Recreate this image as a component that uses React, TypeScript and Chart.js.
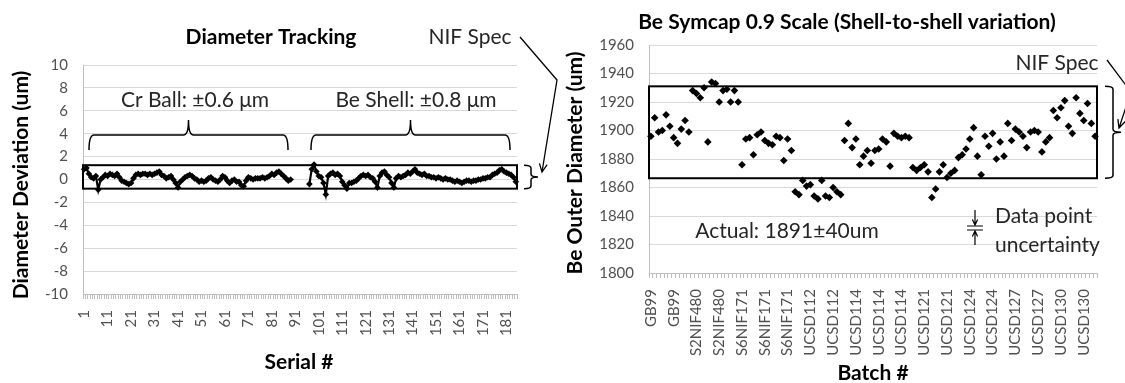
import React, { useEffect, useRef } from 'react';
import { Chart, registerables } from 'chart.js';

Chart.register(...registerables);

const FONT = 'Lato, "Open Sans", sans-serif';
const TICK_COLOR = '#505050';
const GRID_COLOR = '#d9d9d9';
const AXIS_COLOR = '#bfbfbf';
const TEXT_COLOR = '#262626';

// ---------- Left panel: Diameter Tracking ----------
const serialLabels: string[] = Array.from({ length: 185 }, (_, i) => String(i + 1));

const crBall: number[] = [
  0.9, 1.0, 0.5, 0.2, 0.1, 0.3, -0.9, 0.0, 0.2, 0.4,
  0.3, 0.5, 0.4, 0.3, 0.5, 0.2, -0.1, -0.2, -0.3, -0.4,
  -0.3, 0.1, 0.4, 0.5, 0.4, 0.5, 0.5, 0.4, 0.5, 0.4,
  0.5, 0.6, 0.7, 0.4, 0.3, 0.1, 0.2, 0.3, 0.0, -0.3,
  -0.7, -0.2, 0.0, 0.2, 0.3, 0.4, 0.3, 0.1, 0.0, -0.2,
  -0.1, -0.2, -0.1, 0.1, 0.2, 0.0, -0.1, -0.2, 0.0, 0.3,
  0.2, -0.1, -0.3, -0.1, 0.0, -0.2, -0.2, -0.5, -0.6, -0.1,
  0.2, 0.1, 0.0, 0.1, 0.1, 0.1, 0.2, 0.1, 0.2, 0.3,
  0.5, 0.4, 0.6, 0.7, 0.5, 0.3, 0.1, -0.1, 0.0,
];

const gapCount = 7;

const beShell: number[] = [
  -0.4, 0.9, 1.3, 0.7, 0.3, 0.2, -0.3, -1.3, 0.3, 0.5,
  0.6, 0.4, 0.5, 0.3, -0.2, -0.5, -0.8, -0.3, -0.3, -0.2,
  -0.1, 0.1, 0.3, 0.4, 0.3, 0.4, 0.2, 0.1, -0.2, -0.7,
  0.3, 0.6, 0.7, 0.4, 0.2, -0.3, -0.7, 0.1, 0.3, 0.2,
  0.3, 0.4, 0.6, 0.5, 0.7, 0.9, 0.6, 0.5, 0.4, 0.5,
  0.3, 0.3, 0.2, 0.2, 0.1, 0.2, 0.1, 0.0, 0.1, 0.0,
  0.0, -0.1, -0.2, -0.1, -0.2, -0.3, -0.2, -0.1, -0.1, -0.2,
  -0.1, -0.1, 0.0, 0.0, 0.1, 0.1, 0.2, 0.2, 0.4, 0.5,
  0.6, 0.8, 0.9, 0.7, 0.6, 0.5, 0.4, 0.2, -0.2,
];

const leftSpecHigh = 1.25;
const leftSpecLow = -0.8;
const leftYMin = -10;
const leftYMax = 10;
const leftYStep = 2;

// ---------- Right panel: Be Symcap 0.9 Scale ----------
const batchNames: string[] = ['GB99', 'S2NIF480', 'S6NIF171', 'UCSD112', 'UCSD114', 'UCSD121', 'UCSD124', 'UCSD127', 'UCSD130'];
const batchCounts: number[] = [11, 13, 14, 13, 18, 12, 13, 12, 12];

const outerDiameter: number[] = [
  // GB99
  1896, 1909, 1899, 1900, 1911, 1903, 1895, 1891, 1901, 1907, 1899,
  // S2NIF480
  1928, 1926, 1923, 1930, 1892, 1934, 1933, 1920, 1928, 1929, 1920, 1928, 1920,
  // S6NIF171
  1876, 1894, 1895, 1883, 1897, 1899, 1893, 1891, 1890, 1896, 1895, 1879, 1894, 1886,
  // UCSD112
  1857, 1855, 1865, 1861, 1862, 1854, 1852, 1865, 1854, 1853, 1860, 1857, 1855,
  // UCSD114
  1893, 1905, 1888, 1894, 1876, 1882, 1886, 1877, 1886, 1887, 1894, 1892, 1875, 1898, 1896, 1895, 1896, 1895,
  // UCSD121
  1874, 1872, 1874, 1876, 1871, 1853, 1859, 1871, 1876, 1867, 1870, 1872,
  // UCSD124
  1881, 1883, 1887, 1894, 1902, 1882, 1869, 1896, 1889, 1898, 1880, 1892, 1882,
  // UCSD127
  1905, 1893, 1901, 1899, 1896, 1888, 1899, 1900, 1899, 1885, 1892, 1895,
  // UCSD130
  1914, 1909, 1916, 1921, 1903, 1898, 1923, 1912, 1907, 1919, 1905, 1896,
];

const rightSpecHigh = 1931;
const rightSpecLow = 1866.5;
const rightYMin = 1800;
const rightYMax = 1960;
const rightYStep = 20;

const batchLabels: string[] = batchNames.flatMap((n, i) => Array(batchCounts[i]).fill(n));

// ---------- drawing helpers ----------
function font(size: number, bold = false) {
  return `${bold ? 'bold ' : ''}${size}px ${FONT}`;
}

function text(ctx: CanvasRenderingContext2D, s: string, x: number, y: number, size: number, opts: { bold?: boolean; align?: CanvasTextAlign; color?: string; rotate?: boolean } = {}) {
  ctx.save();
  ctx.font = font(size, opts.bold);
  ctx.fillStyle = opts.color || TEXT_COLOR;
  ctx.textAlign = opts.align || 'center';
  ctx.textBaseline = 'middle';
  ctx.translate(x, y);
  if (opts.rotate) ctx.rotate(-Math.PI / 2);
  ctx.fillText(s, 0, 0);
  ctx.restore();
}

function hBrace(ctx: CanvasRenderingContext2D, x1: number, x2: number, y: number, h: number) {
  const xm = (x1 + x2) / 2;
  const r = 5;
  ctx.beginPath();
  ctx.moveTo(x1, y + h);
  ctx.quadraticCurveTo(x1, y, x1 + r, y);
  ctx.lineTo(xm - r, y);
  ctx.quadraticCurveTo(xm, y, xm, y - h);
  ctx.quadraticCurveTo(xm, y, xm + r, y);
  ctx.lineTo(x2 - r, y);
  ctx.quadraticCurveTo(x2, y, x2, y + h);
  ctx.stroke();
}

function vBrace(ctx: CanvasRenderingContext2D, x: number, y1: number, y2: number, w: number) {
  const ym = (y1 + y2) / 2;
  const r = 3;
  ctx.beginPath();
  ctx.moveTo(x - w, y1);
  ctx.quadraticCurveTo(x, y1, x, y1 + r);
  ctx.lineTo(x, ym - r);
  ctx.quadraticCurveTo(x, ym, x + w, ym);
  ctx.quadraticCurveTo(x, ym, x, ym + r);
  ctx.lineTo(x, y2 - r);
  ctx.quadraticCurveTo(x, y2, x - w, y2);
  ctx.stroke();
}

function arrow(ctx: CanvasRenderingContext2D, pts: number[][], head = 8) {
  ctx.beginPath();
  ctx.moveTo(pts[0][0], pts[0][1]);
  for (let i = 1; i < pts.length; i++) ctx.lineTo(pts[i][0], pts[i][1]);
  const [x2, y2] = pts[pts.length - 1];
  const [x1, y1] = pts[pts.length - 2];
  const a = Math.atan2(y2 - y1, x2 - x1);
  const spread = 0.45;
  ctx.moveTo(x2 - head * Math.cos(a - spread), y2 - head * Math.sin(a - spread));
  ctx.lineTo(x2, y2);
  ctx.lineTo(x2 - head * Math.cos(a + spread), y2 - head * Math.sin(a + spread));
  ctx.stroke();
}

function specBox(chart: any, hi: number, lo: number) {
  const { ctx, chartArea } = chart;
  const y = chart.scales.y;
  const yt = y.getPixelForValue(hi);
  const yb = y.getPixelForValue(lo);
  ctx.save();
  ctx.strokeStyle = '#000';
  ctx.lineWidth = 2;
  ctx.strokeRect(chartArea.left, yt, chartArea.right - chartArea.left, yb - yt);
  ctx.restore();
}

const TITLE = 21;
const ANNO = 21;

const leftPlugin = {
  id: 'leftAnno',
  beforeDatasetsDraw(chart: any) {
    specBox(chart, leftSpecHigh, leftSpecLow);
  },
  afterDraw(chart: any) {
    const ctx: CanvasRenderingContext2D = chart.ctx;
    const y = chart.scales.y;
    const yt = y.getPixelForValue(leftSpecHigh);
    const yb = y.getPixelForValue(leftSpecLow);
    text(ctx, 'Diameter Tracking', 271, 37, TITLE, { bold: true, color: '#000' });
    text(ctx, 'Diameter Deviation (um)', 21, 185, TITLE, { bold: true, color: '#000', rotate: true });
    text(ctx, 'Serial #', 299, 362, TITLE, { bold: true, color: '#000' });
    text(ctx, 'Cr Ball: \u00b10.6 \u03bcm', 195, 100, ANNO);
    text(ctx, 'Be Shell: \u00b10.8 \u03bcm', 416, 100, ANNO);
    text(ctx, 'NIF Spec', 470, 37, ANNO);
    ctx.save();
    ctx.strokeStyle = '#000';
    ctx.lineWidth = 1.5;
    hBrace(ctx, 89, 288, 135, 15);
    hBrace(ctx, 311, 510, 135, 15);
    vBrace(ctx, 531, yt, yb, 7);
    ctx.lineWidth = 1.3;
    arrow(ctx, [[520, 37], [557, 80], [542, 172]], 9);
    ctx.restore();
  },
};

const rightPlugin = {
  id: 'rightAnno',
  beforeDatasetsDraw(chart: any) {
    specBox(chart, rightSpecHigh, rightSpecLow);
  },
  afterDraw(chart: any) {
    const ctx: CanvasRenderingContext2D = chart.ctx;
    const y = chart.scales.y;
    const yt = y.getPixelForValue(rightSpecHigh);
    const yb = y.getPixelForValue(rightSpecLow);
    text(ctx, 'Be Symcap 0.9 Scale (Shell-to-shell variation)', 287, 22, TITLE, { bold: true, color: '#000' });
    text(ctx, 'Be Outer Diameter (um)', 15, 163, TITLE, { bold: true, color: '#000', rotate: true });
    text(ctx, 'Batch #', 313, 373, TITLE, { bold: true, color: '#000' });
    text(ctx, 'NIF Spec', 497, 63, ANNO);
    text(ctx, 'Actual: 1891\u00b140um', 227, 231, ANNO);
    text(ctx, 'Data point', 435, 216, ANNO, { align: 'left' });
    text(ctx, 'uncertainty', 435, 245, ANNO, { align: 'left' });
    ctx.save();
    ctx.strokeStyle = '#000';
    ctx.lineWidth = 1.5;
    vBrace(ctx, 553, yt, yb, 8);
    ctx.lineWidth = 1.3;
    arrow(ctx, [[547, 60], [571, 92], [559, 128]], 9);
    ctx.lineWidth = 1.2;
    ctx.beginPath();
    ctx.moveTo(407, 226); ctx.lineTo(423, 226);
    ctx.moveTo(407, 230); ctx.lineTo(423, 230);
    ctx.stroke();
    arrow(ctx, [[415, 210], [415, 225]], 6);
    arrow(ctx, [[415, 245], [415, 231]], 6);
    ctx.restore();
  },
};

function leftConfig(): any {
  const data: (number | null)[] = [...crBall, ...Array(gapCount).fill(null), ...beShell];
  return {
    type: 'line',
    data: {
      labels: serialLabels,
      datasets: [{
        data,
        borderColor: '#000',
        borderWidth: 2.2,
        pointStyle: 'rectRot',
        pointRadius: 3.3,
        pointBackgroundColor: '#000',
        pointBorderColor: '#000',
        pointBorderWidth: 0,
        spanGaps: false,
        tension: 0,
      }],
    },
    options: {
      animation: false,
      responsive: false,
      layout: { padding: { left: 0, top: 65, right: 43, bottom: 19 } },
      plugins: { legend: { display: false }, tooltip: { enabled: false }, title: { display: false } },
      scales: {
        x: {
          type: 'category',
          offset: true,
          grid: { offset: true, drawOnChartArea: false, drawTicks: true, tickLength: 5, color: AXIS_COLOR },
          border: { display: true, color: AXIS_COLOR },
          ticks: {
            autoSkip: false, minRotation: 90, maxRotation: 90, padding: 11,
            color: TICK_COLOR, font: { family: FONT, size: 15 },
            callback: (_v: any, i: number) => (i % 10 === 0 ? serialLabels[i] : ''),
          },
          afterFit: (s: any) => { s.height = 70; s.paddingLeft = 0; s.paddingRight = 0; },
        },
        y: {
          min: leftYMin, max: leftYMax,
          ticks: { stepSize: leftYStep, padding: 15, color: TICK_COLOR, font: { family: FONT, size: 15 } },
          grid: { color: GRID_COLOR, drawTicks: false },
          border: { display: true, color: AXIS_COLOR },
          afterFit: (s: any) => { s.width = 83; s.paddingTop = 0; s.paddingBottom = 0; },
        },
      },
    },
    plugins: [leftPlugin],
  };
}

function rightConfig(): any {
  return {
    type: 'line',
    data: {
      labels: batchLabels,
      datasets: [{
        data: outerDiameter,
        showLine: false,
        pointStyle: 'rectRot',
        pointRadius: 3.8,
        pointBackgroundColor: '#000',
        pointBorderColor: '#000',
        pointBorderWidth: 0,
      }],
    },
    options: {
      animation: false,
      responsive: false,
      layout: { padding: { left: 0, top: 45, right: 28, bottom: 10 } },
      plugins: { legend: { display: false }, tooltip: { enabled: false }, title: { display: false } },
      scales: {
        x: {
          type: 'category',
          offset: true,
          grid: { offset: true, drawOnChartArea: false, drawTicks: true, tickLength: 5, color: AXIS_COLOR },
          border: { display: true, color: AXIS_COLOR },
          ticks: {
            autoSkip: false, minRotation: 90, maxRotation: 90, padding: 11,
            color: TICK_COLOR, font: { family: FONT, size: 15 },
            callback: (_v: any, i: number) => (i % 6 === 0 ? batchLabels[i] : ''),
          },
          afterFit: (s: any) => { s.height = 100; s.paddingLeft = 0; s.paddingRight = 0; },
        },
        y: {
          min: rightYMin, max: rightYMax,
          ticks: { stepSize: rightYStep, padding: 15, color: TICK_COLOR, font: { family: FONT, size: 15 }, callback: (v: any) => String(v) },
          grid: { color: GRID_COLOR, drawTicks: false },
          border: { display: true, color: AXIS_COLOR },
          afterFit: (s: any) => { s.width = 89; s.paddingTop = 0; s.paddingBottom = 0; },
        },
      },
    },
    plugins: [rightPlugin],
  };
}

export default function App() {
  const leftRef = useRef<HTMLCanvasElement>(null);
  const rightRef = useRef<HTMLCanvasElement>(null);
  useEffect(() => {
    const c1 = new Chart(leftRef.current as HTMLCanvasElement, leftConfig());
    const c2 = new Chart(rightRef.current as HTMLCanvasElement, rightConfig());
    return () => { c1.destroy(); c2.destroy(); };
  }, []);
  return (
    <div style={{ position: 'absolute', left: 0, top: 0, width: 1125, height: 383, background: '#fff', overflow: 'hidden' }}>
      <canvas ref={leftRef} width={560} height={383} style={{ position: 'absolute', left: 0, top: 0, width: 560, height: 383 }} />
      <canvas ref={rightRef} width={565} height={383} style={{ position: 'absolute', left: 560, top: 0, width: 565, height: 383 }} />
    </div>
  );
}
